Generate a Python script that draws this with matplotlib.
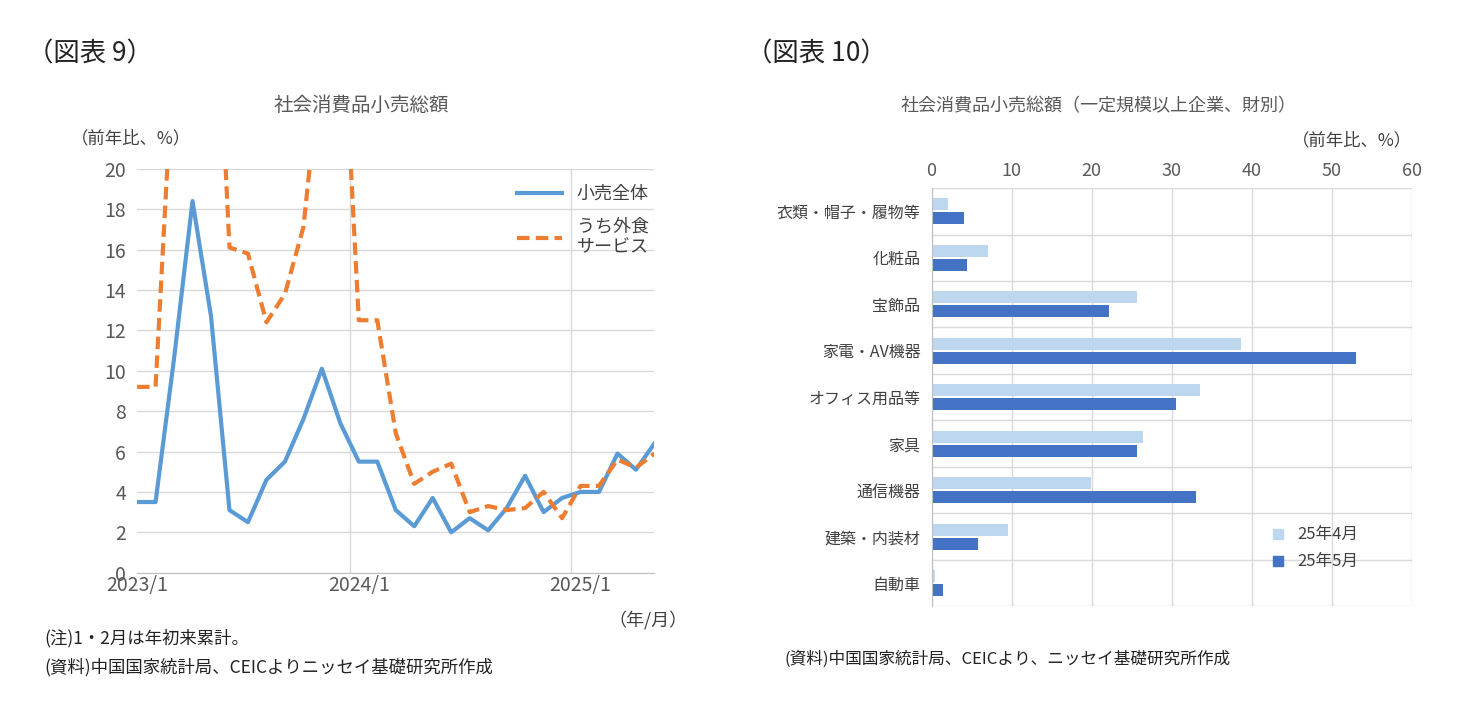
import matplotlib
matplotlib.use("Agg")
import matplotlib.pyplot as plt
from matplotlib.lines import Line2D
import numpy as np

plt.rcParams["font.family"] = "Noto Sans CJK JP"

months = list(range(29))  # 2023/1 .. 2025/5
retail_total = [3.5, 3.5, 10.6, 18.4, 12.7, 3.1, 2.5, 4.6, 5.5, 7.6, 10.1, 7.4,
                5.5, 5.5, 3.1, 2.3, 3.7, 2.0, 2.7, 2.1, 3.2, 4.8, 3.0, 3.7,
                4.0, 4.0, 5.9, 5.1, 6.4]
catering = [9.2, 9.2, 26.3, 43.8, 35.1, 16.1, 15.8, 12.4, 13.8, 17.1, 25.8, 30.0,
            12.5, 12.5, 6.9, 4.4, 5.0, 5.4, 3.0, 3.3, 3.1, 3.2, 4.0, 2.7,
            4.3, 4.3, 5.6, 5.2, 5.9]
xtick_pos = [0, 12, 24]
xtick_labels = ["2023/1", "2024/1", "2025/1"]

categories = ["衣類・帽子・履物等", "化粧品", "宝飾品", "家電・AV機器", "オフィス用品等",
              "家具", "通信機器", "建築・内装材", "自動車"]
apr25 = [2.0, 7.1, 25.7, 38.6, 33.5, 26.4, 19.9, 9.6, 0.4]
may25 = [4.1, 4.4, 22.1, 53.0, 30.5, 25.6, 33.0, 5.8, 1.4]

fig = plt.figure(figsize=(14.74, 7.15), dpi=100)
grid_c = "#d9d9d9"
txt_c = "#404040"

# ---- left chart
ax = fig.add_axes([0.093, 0.199, 0.351, 0.565])
ax.plot(months, retail_total, color="#5b9bd5", lw=3, label="小売全体")
ax.plot(months, catering, color="#ed7d31", lw=3, ls=(0, (3, 1.5)), label="うち外食\nサービス")
ax.set_xlim(0, 28)
ax.set_ylim(0, 20)
ax.set_yticks(range(0, 21, 2))
ax.set_xticks(xtick_pos)
ax.set_xticklabels(xtick_labels)
ax.set_xticks([11.5, 23.5], minor=True)
ax.grid(True, axis="y", color=grid_c, lw=1)
ax.grid(True, axis="x", which="minor", color=grid_c, lw=1)
ax.set_axisbelow(True)
for s in ["top", "right", "left"]:
    ax.spines[s].set_visible(False)
ax.spines["bottom"].set_color("#bfbfbf")
ax.tick_params(which="both", length=0, labelsize=14, colors="#595959")
ax.tick_params(axis="y", pad=8)
ax.tick_params(axis="x", pad=2)
leg = ax.legend(loc="upper right", bbox_to_anchor=(1.02, 1.0), frameon=False, fontsize=13,
                handlelength=2.5, labelspacing=0.8)
for t in leg.get_texts():
    t.set_color(txt_c)
fig.text(0.245, 0.845, "社会消費品小売総額", ha="center", fontsize=14, color="#595959")
fig.text(0.048, 0.80, "（前年比、%）", fontsize=12.5, color=txt_c)
fig.text(0.413, 0.125, "（年/月）", fontsize=13, color=txt_c)
fig.text(0.018, 0.925, "（図表 9）", fontsize=19, color="#222222", va="center")
fig.text(0.03, 0.1, "(注)1・2月は年初来累計。", fontsize=12.5, color="#222222")
fig.text(0.03, 0.06, "(資料)中国国家統計局、CEICよりニッセイ基礎研究所作成", fontsize=12.5, color="#222222")

# ---- right chart
ax2 = fig.add_axes([0.632, 0.152, 0.326, 0.585])
y = np.arange(len(categories))
h = 0.26
ax2.barh(y - h / 2 - 0.02, apr25, height=h, color="#bdd7ee", label="25年4月")
ax2.barh(y + h / 2 + 0.02, may25, height=h, color="#4472c4", label="25年5月")
ax2.set_ylim(len(categories) - 0.5, -0.5)
ax2.set_xlim(0, 60)
ax2.set_xticks(range(0, 61, 10))
ax2.xaxis.tick_top()
ax2.set_yticks(y)
ax2.set_yticklabels(categories)
ax2.set_yticks(np.arange(-0.5, len(categories), 1), minor=True)
ax2.grid(True, which="major", axis="x", color=grid_c, lw=1)
ax2.grid(True, which="minor", axis="y", color=grid_c, lw=1)
ax2.set_axisbelow(True)
for s in ["top", "right", "bottom"]:
    ax2.spines[s].set_visible(False)
ax2.spines["left"].set_color("#bfbfbf")
ax2.tick_params(which="both", length=0)
ax2.tick_params(axis="x", labelsize=13, colors="#595959", pad=6)
ax2.tick_params(axis="y", labelsize=11.5, colors="#404040", pad=8)
handles = [Line2D([0], [0], marker="s", ls="", color="#bdd7ee", markersize=7),
           Line2D([0], [0], marker="s", ls="", color="#4472c4", markersize=7)]
leg2 = ax2.legend(handles, ["25年4月", "25年5月"], loc="lower right",
                  bbox_to_anchor=(0.92, 0.05), frameon=False, fontsize=12,
                  handletextpad=0.2, labelspacing=0.6)
for t in leg2.get_texts():
    t.set_color(txt_c)
fig.text(0.745, 0.845, "社会消費品小売総額（一定規模以上企業、財別）", ha="center", fontsize=13, color="#595959")
fig.text(0.958, 0.797, "（前年比、%）", ha="right", fontsize=12.5, color=txt_c)
fig.text(0.506, 0.925, "（図表 10）", fontsize=19, color="#222222", va="center")
fig.text(0.532, 0.072, "(資料)中国国家統計局、CEICより、ニッセイ基礎研究所作成", fontsize=12, color="#222222")

fig.savefig("out.png", dpi=100, facecolor="white")
